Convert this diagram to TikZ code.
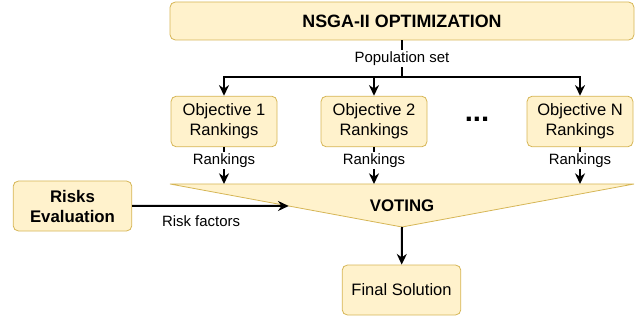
\documentclass[tikz,border=0pt]{standalone}
\usepackage{fontspec}
\setmainfont{Liberation Sans}
\usetikzlibrary{arrows.meta,calc}
\definecolor{boxfill}{HTML}{FFF2CC}
\definecolor{boxline}{HTML}{D6B656}

\begin{document}
\begin{tikzpicture}[x=0.75pt,y=-0.75pt]
    \tikzstyle{every node}=[font=\fontsize{12.4}{15}\selectfont]
    \tikzstyle{box}=[draw=boxline, fill=boxfill, rounded corners=4pt, line width=0.6pt, align=center, inner sep=0pt]
    \tikzstyle{objbox}=[box, minimum width=79.5pt, minimum height=38pt]
    \tikzstyle{flow}=[line width=1.5pt, -{Stealth[length=8pt,width=7.5pt]}]
    \tikzstyle{lbl}=[font=\fontsize{11.2}{12}\selectfont, fill=white, inner sep=1pt]
    \useasboundingbox (0,0) rectangle (638,320);
    % draw boxes
    \node[box, minimum width=348pt, minimum height=28.5pt, font=\fontsize{13.4}{15}\selectfont\bfseries] (opt) at (402,21) {NSGA-II OPTIMIZATION};
    \node[objbox] (obj1) at (224,121.5) {Objective 1\\Rankings};
    \node[objbox] (obj2) at (374,121.5) {Objective 2\\Rankings};
    \node[objbox] (objn) at (580,121.5) {Objective N\\Rankings};
    \node[font=\fontsize{22}{22}\selectfont\bfseries] (dots) at (477,119) {...};
    \node[box, minimum width=89pt, minimum height=37.5pt, font=\fontsize{12.6}{15}\selectfont\bfseries] (risk) at (72.5,206) {Risks\\Evaluation};
    \node[box, minimum width=89pt, minimum height=37.5pt] (final) at (401.5,290) {Final Solution};
    % voting triangle
    \coordinate (votetl) at (170,184);
    \coordinate (votetr) at (634,184);
    \coordinate (votebot) at (402,227);
    \draw[draw=boxline, fill=boxfill, line width=0.6pt] (votetl) -- (votetr) -- (votebot) -- cycle;
    \node[font=\fontsize{12.6}{15}\selectfont\bfseries] (voting) at (402,206) {VOTING};
    \coordinate (voteleft) at ($(votetl)!0.5116!(votebot)$);
    % draw connectors
    \coordinate (split) at (402,77);
    \draw[line width=1.5pt] (opt) -- (split) node[midway, lbl] {Population set};
    \draw[flow] (split) -| (obj1);
    \draw[flow] (split) -| (obj2);
    \draw[flow] (split) -| (objn);
    \draw[flow] (obj1) -- (obj1 |- votetl) node[pos=0.36, lbl] {Rankings};
    \draw[flow] (obj2) -- (obj2 |- votetl) node[pos=0.36, lbl] {Rankings};
    \draw[flow] (objn) -- (objn |- votetl) node[pos=0.36, lbl] {Rankings};
    \draw[flow] (risk) -- (voteleft) node[pos=0.44, yshift=-11pt, font=\fontsize{11.2}{12}\selectfont] {Risk factors};
    \draw[flow] (votebot) -- (final);
\end{tikzpicture}
\end{document}
